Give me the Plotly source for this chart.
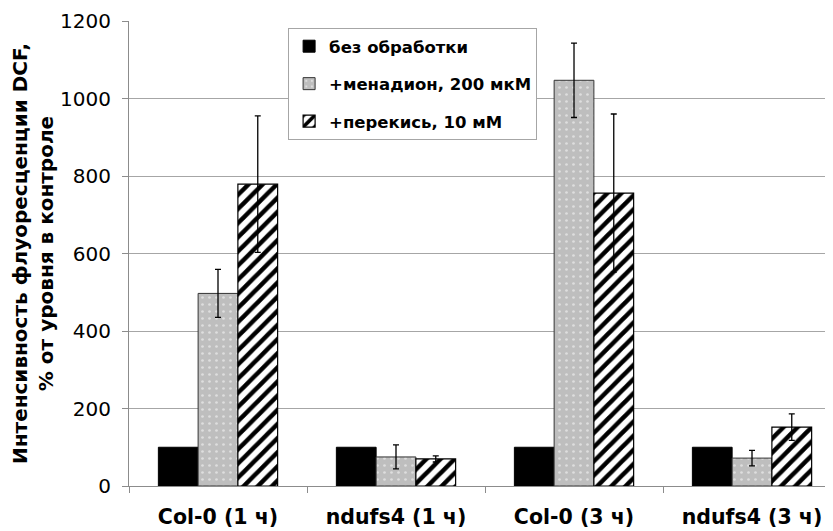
import plotly.graph_objects as go

categories = ["Col-0 (1 ч)", "ndufs4 (1 ч)", "Col-0 (3 ч)", "ndufs4 (3 ч)"]
series_names = ["без обработки", "+менадион, 200 мкМ", "+перекись, 10 мМ"]
control = [100, 100, 100, 100]
menadione = [497, 75, 1047, 72]
menadione_err = [62, 31, 96, 20]
peroxide = [779, 70, 756, 152]
peroxide_err = [176, 8, 204, 34]
y_ticks = [0, 200, 400, 600, 800, 1000, 1200]

FONT = "DejaVu Sans, Liberation Sans, Arial, sans-serif"
# the page body has an 8px default margin; margins compensate for it
OFF = 8

fig = go.Figure()

err_style = dict(type="data", color="black", thickness=1.3, width=3)

fig.add_trace(go.Bar(
    x=categories, y=control, name=series_names[0], legendgroup="a",
    marker=dict(color="black", line=dict(color="black", width=1)),
))
fig.add_trace(go.Bar(
    x=categories, y=menadione, name=series_names[1], legendgroup="b",
    error_y=dict(array=menadione_err, **err_style),
    marker=dict(color="#bebebe", line=dict(color="#333333", width=1),
                pattern=dict(shape=".", fgcolor="#dedede", bgcolor="#bebebe",
                             size=7, solidity=0.12, fillmode="replace")),
))
fig.add_trace(go.Bar(
    x=categories, y=peroxide, name=series_names[2], legendgroup="c",
    error_y=dict(array=peroxide_err, **err_style),
    marker=dict(color="white", line=dict(color="black", width=1.2),
                pattern=dict(shape="/", fgcolor="black", bgcolor="white",
                             size=10, solidity=0.45, fillmode="replace")),
))

fig.update_layout(
    width=833, height=531,
    margin=dict(l=129 - OFF, r=OFF, t=21 - OFF, b=45 + OFF),
    paper_bgcolor="white", plot_bgcolor="white",
    barmode="group", bargap=0.33, bargroupgap=0,
    font=dict(family=FONT, color="black"),
    showlegend=True,
    legend=dict(
        x=0.226, y=0.985, xanchor="left", yanchor="top",
        bgcolor="white", bordercolor="#a6a6a6", borderwidth=1,
        font=dict(family=FONT, size=16.5, weight="bold", color="black"),
        tracegroupgap=13, traceorder="grouped",
        itemwidth=30,
    ),
    xaxis=dict(
        type="category", categoryorder="array", categoryarray=categories,
        range=[-0.5, 3.455], automargin=False,
        showline=True, linecolor="#8c8c8c", linewidth=1,
        ticks="outside", tickson="boundaries", ticklen=6, tickcolor="#8c8c8c",
        tickfont=dict(family=FONT, size=20.5, weight="bold", color="black"),
        ticklabelstandoff=12,
        showgrid=False,
    ),
    yaxis=dict(
        range=[0, 1200], tickvals=y_ticks, automargin=False,
        showline=True, linecolor="#8c8c8c", linewidth=1,
        ticks="outside", ticklen=6, tickcolor="#8c8c8c",
        tickfont=dict(family=FONT, size=20, color="black"),
        ticklabelstandoff=7,
        showgrid=True, gridcolor="#a6a6a6", gridwidth=1,
        zeroline=False,
        title=dict(text="Интенсивность флуоресценции DCF,<br>% от уровня в контроле",
                   font=dict(family=FONT, size=20, weight="bold", color="black"),
                   standoff=14),
    ),
)

fig.write_html("out.html")
